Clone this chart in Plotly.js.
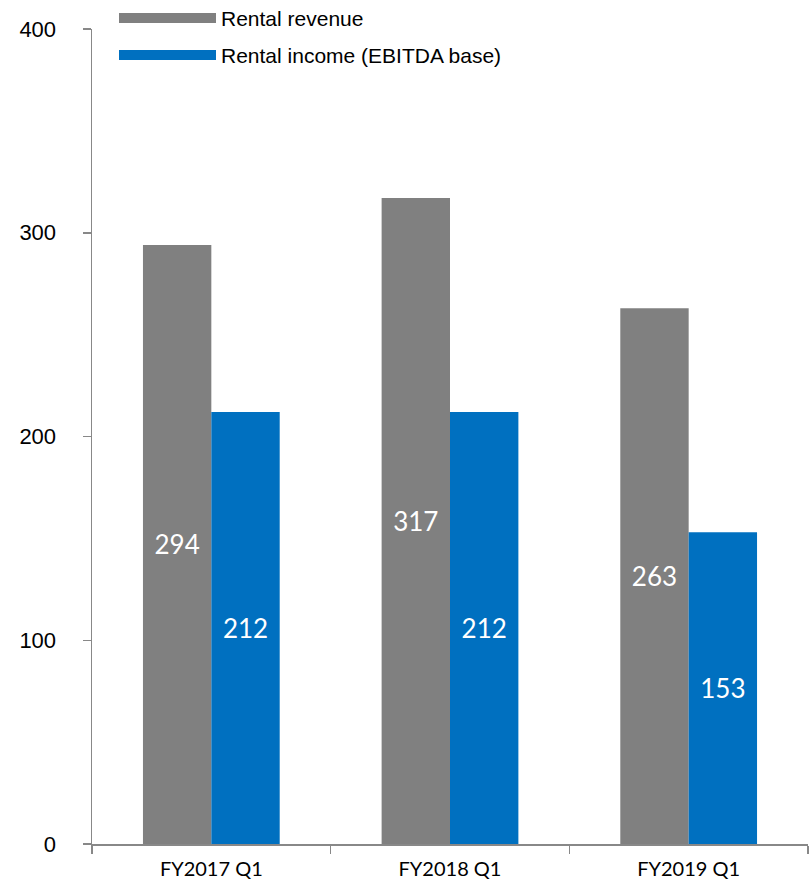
<!DOCTYPE html>
<html>
<head>
<meta charset="utf-8">
<script src="https://cdn.plot.ly/plotly-3.0.1.min.js"></script>
<style>html,body{margin:0;padding:0;background:#fff;}#chart{width:810px;height:887px;}</style>
</head>
<body>
<div id="chart"></div>
<script>
const categories = ["FY2017 Q1", "FY2018 Q1", "FY2019 Q1"];
const rentalRevenue = [294, 317, 263];
const rentalIncome = [212, 212, 153];
const seriesNames = ["Rental revenue", "Rental income (EBITDA base)"];
const seriesColors = ["#808080", "#0070C0"];
const yTicks = [0, 100, 200, 300, 400];

const labelFont = {family: "Lato, 'Open Sans', sans-serif", size: 26, color: "#ffffff"};

const traces = [
  {type: "bar", name: seriesNames[0], x: categories, y: rentalRevenue,
   marker: {color: seriesColors[0]}, text: rentalRevenue.map(String),
   textposition: "inside", insidetextanchor: "middle", textfont: labelFont,
   textangle: 0, hoverinfo: "x+y"},
  {type: "bar", name: seriesNames[1], x: categories, y: rentalIncome,
   marker: {color: seriesColors[1]}, text: rentalIncome.map(String),
   textposition: "inside", insidetextanchor: "middle", textfont: labelFont,
   textangle: 0, hoverinfo: "x+y"}
];

const plotTop = 29, plotBottom = 844, plotH = plotBottom - plotTop;
const py = p => (plotBottom - p) / plotH;
const plotLeft = 92, plotRight = 808, plotW = plotRight - plotLeft;
const px = p => (p - plotLeft) / plotW;

const legendY = [18, 55];
const shapes = [], annotations = [];
seriesNames.forEach((n, i) => {
  shapes.push({type: "rect", xref: "paper", yref: "paper",
    x0: px(119), x1: px(216), y0: py(legendY[i] + 5), y1: py(legendY[i] - 5),
    fillcolor: seriesColors[i], line: {width: 0}});
  annotations.push({xref: "paper", yref: "paper", x: px(219), y: py(legendY[i]),
    xanchor: "left", yanchor: "middle", showarrow: false, text: n,
    font: {family: "'Liberation Sans', Arial, sans-serif", size: 21, color: "#000"}});
});

const layout = {
  width: 810, height: 887,
  margin: {l: plotLeft, r: 810 - plotRight, t: plotTop, b: 887 - plotBottom},
  paper_bgcolor: "#fff", plot_bgcolor: "#fff",
  showlegend: false,
  barmode: "group", bargap: 0.427, bargroupgap: 0,
  xaxis: {type: "category", showline: true, linecolor: "#888", linewidth: 1.5,
    ticks: "outside", tickson: "boundaries", ticklen: 8, tickcolor: "#888", tickwidth: 1.5,
    showgrid: false, zeroline: false, ticklabelstandoff: 6,
    tickfont: {family: "Lato, 'Open Sans', sans-serif", size: 20, color: "#000"}},
  yaxis: {range: [0, 400], tickvals: yTicks, ticktext: yTicks.map(String),
    showline: true, linecolor: "#888", linewidth: 1.5,
    ticks: "outside", ticklen: 8, tickcolor: "#888", tickwidth: 1.5,
    showgrid: false, zeroline: false, ticklabelstandoff: 22,
    tickfont: {family: "'Liberation Sans', Arial, sans-serif", size: 22, color: "#000"}},
  shapes: shapes, annotations: annotations
};

Plotly.newPlot("chart", traces, layout, {displayModeBar: false, staticPlot: true});
</script>
</body>
</html>
